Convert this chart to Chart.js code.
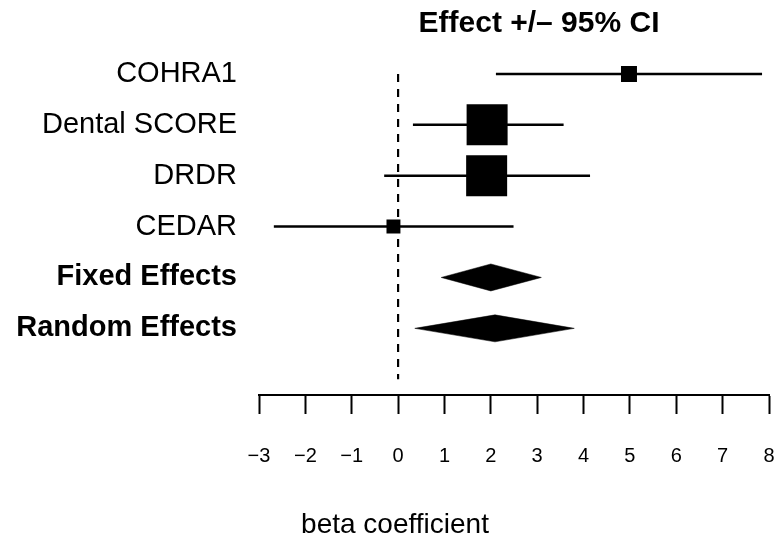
<!DOCTYPE html>
<html>
<head>
<meta charset="utf-8">
<script src="https://cdn.jsdelivr.net/npm/chart.js@4.4.0/dist/chart.umd.min.js"></script>
<style>
    html, body { margin: 0; padding: 0; background: #fff; overflow: hidden; }
    #forest { display: block; }
</style>
</head>
<body>
<canvas id="forest" width="780" height="542"></canvas>
<script>
// studies (top to bottom)
const studies = ['COHRA1', 'Dental SCORE', 'DRDR', 'CEDAR'];
const studyEst = [4.98, 1.92, 1.91, -0.10];
const studyLower = [2.11, 0.32, -0.30, -2.68];
const studyUpper = [7.85, 3.57, 4.14, 2.49];
const studyWeight = [0.39, 1.0, 1.0, 0.34];   // relative box size

// pooled estimates
const summaries = ['Fixed Effects', 'Random Effects'];
const summaryEst = [2.00, 2.09];
const summaryLower = [0.93, 0.36];
const summaryUpper = [3.09, 3.80];

const xTicks = [-3, -2, -1, 0, 1, 2, 3, 4, 5, 6, 7, 8];
const titleText = 'Effect +/\u2013 95% CI';
const xLabelText = 'beta coefficient';

const rowLabels = studies.concat(summaries);
const FONT = "'Liberation Sans', Arial, Helvetica, sans-serif";
const MAX_BOX = 41;      // px side of the heaviest study box
const DIAMOND_H = 0.265; // half height of diamonds, in rows

const datasets = [];

// zero reference line
datasets.push({
    data: [{ x: 0, y: 0 }, { x: 0, y: rowLabels.length }],
    showLine: true, borderColor: '#000', borderWidth: 2.2, borderDash: [8, 7],
    pointRadius: 0, fill: false
});

// confidence interval lines
studies.forEach((s, i) => {
    datasets.push({
        data: [{ x: studyLower[i], y: i }, { x: studyUpper[i], y: i }],
        showLine: true, borderColor: '#000', borderWidth: 2.5,
        pointRadius: 0, fill: false
    });
});

// boxes
datasets.push({
    data: studies.map((s, i) => ({ x: studyEst[i], y: i })),
    pointStyle: 'rect',
    pointRadius: studyWeight.map(w => (w * MAX_BOX) / 2 / Math.SQRT1_2),
    pointBackgroundColor: '#000', pointBorderWidth: 0, showLine: false
});

// diamonds
summaries.forEach((s, j) => {
    const r = studies.length + j;
    datasets.push({
        data: [
            { x: summaryLower[j], y: r },
            { x: summaryEst[j], y: r - DIAMOND_H },
            { x: summaryUpper[j], y: r },
            { x: summaryEst[j], y: r + DIAMOND_H },
            { x: summaryLower[j], y: r }
        ],
        showLine: true, borderColor: '#000', borderWidth: 0.5,
        backgroundColor: '#000', fill: 'shape', pointRadius: 0, tension: 0
    });
});

const textPlugin = {
    id: 'textPlugin',
    afterDraw(chart) {
        const ctx = chart.ctx;
        ctx.save();
        ctx.fillStyle = '#000';
        ctx.textAlign = 'center';
        ctx.textBaseline = 'alphabetic';
        ctx.font = 'bold 30px ' + FONT;
        ctx.fillText(titleText, 539, 32);
        ctx.font = '28px ' + FONT;
        ctx.fillText(xLabelText, 395, 533);
        ctx.restore();
    }
};

const chart = new Chart(document.getElementById('forest').getContext('2d'), {
    type: 'scatter',
    data: { datasets: datasets },
    options: {
        responsive: false,
        animation: false,
        // big box points would otherwise add auto padding round the plot
        layout: { autoPadding: false, padding: { top: 48.5, right: 11, left: 0, bottom: 0 } },
        plugins: {
            legend: { display: false },
            tooltip: { enabled: false }
        },
        scales: {
            x: {
                type: 'linear', min: -3, max: 8,
                afterBuildTicks: s => { s.ticks = xTicks.map(v => ({ value: v })); },
                afterFit: s => { s.height = 147; s.paddingLeft = 0; s.paddingRight = 0; },
                grid: { drawOnChartArea: false, drawTicks: true, tickLength: 19, tickWidth: 2, tickColor: '#000' },
                border: { display: true, color: '#000', width: 2 },
                ticks: {
                    color: '#000', padding: 3, maxRotation: 0,
                    font: { family: FONT, size: 20, lineHeight: 1.3 },
                    // blank first line pushes the numbers down, away from the tick marks
                    callback: v => ['', v < 0 ? '\u2212' + Math.abs(v) : String(v)]
                }
            },
            y: {
                type: 'linear', min: -0.5, max: 6.31, reverse: true,
                afterBuildTicks: s => { s.ticks = rowLabels.map((l, i) => ({ value: i })); },
                afterFit: s => { s.width = 259; },
                grid: { display: false, drawTicks: false },
                border: { display: false },
                ticks: {
                    color: '#000', padding: 22,
                    font: ctx => ({ family: FONT, size: 29, weight: ctx.index >= studies.length ? 'bold' : 'normal' }),
                    callback: (v, i) => rowLabels[i]
                }
            }
        }
    },
    plugins: [textPlugin]
});
</script>
</body>
</html>
